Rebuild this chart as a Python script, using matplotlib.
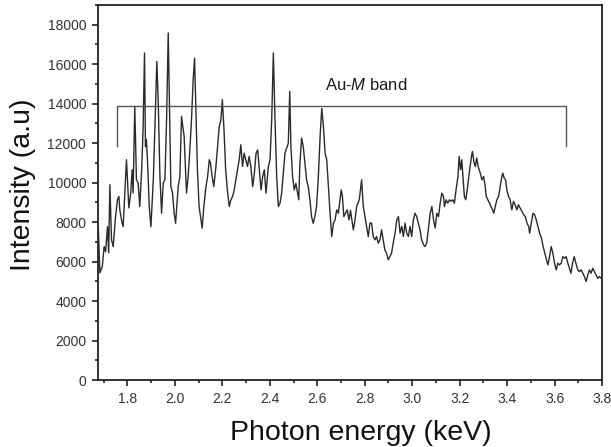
import matplotlib
matplotlib.use("Agg")
from matplotlib import pyplot as plt, ticker

plt.rcParams['font.family'] = ['Liberation Sans', 'DejaVu Sans']
plt.rcParams['mathtext.fontset'] = 'custom'
plt.rcParams['mathtext.rm'] = 'Liberation Sans'
plt.rcParams['mathtext.it'] = 'Liberation Sans:italic'

# spectrum (keV, counts)
energy = [
    1.677, 1.684, 1.694, 1.702, 1.708, 1.716, 1.721, 1.726, 1.733, 1.740,
    1.750, 1.758, 1.764, 1.768, 1.775, 1.782, 1.796, 1.806, 1.814, 1.820,
    1.824, 1.831, 1.838, 1.845, 1.852, 1.860, 1.866, 1.872, 1.876, 1.880,
    1.885, 1.892, 1.899, 1.909, 1.916, 1.924, 1.930, 1.937, 1.944, 1.951,
    1.958, 1.965, 1.972, 1.978, 1.983, 1.990, 1.997, 2.003, 2.014, 2.021,
    2.028, 2.035, 2.039, 2.049, 2.056, 2.063, 2.070, 2.077, 2.083, 2.088,
    2.095, 2.102, 2.108, 2.115, 2.122, 2.131, 2.138, 2.145, 2.150, 2.157,
    2.164, 2.173, 2.180, 2.187, 2.194, 2.200, 2.207, 2.214, 2.221, 2.229,
    2.236, 2.243, 2.250, 2.257, 2.264, 2.271, 2.278, 2.285, 2.292, 2.299,
    2.306, 2.313, 2.320, 2.328, 2.335, 2.342, 2.349, 2.356, 2.363, 2.370,
    2.377, 2.384, 2.394, 2.401, 2.408, 2.415, 2.422, 2.429, 2.436, 2.443,
    2.450, 2.457, 2.464, 2.471, 2.478, 2.484, 2.489, 2.496, 2.503, 2.510,
    2.517, 2.522, 2.527, 2.534, 2.541, 2.548, 2.555, 2.562, 2.569, 2.576,
    2.583, 2.590, 2.597, 2.604, 2.612, 2.619, 2.626, 2.633, 2.640, 2.647,
    2.654, 2.661, 2.668, 2.675, 2.682, 2.689, 2.701, 2.706, 2.712, 2.719,
    2.726, 2.734, 2.740, 2.752, 2.759, 2.766, 2.777, 2.787, 2.794, 2.801,
    2.808, 2.815, 2.822, 2.829, 2.836, 2.843, 2.850, 2.857, 2.864, 2.871,
    2.878, 2.885, 2.892, 2.899, 2.906, 2.913, 2.920, 2.928, 2.935, 2.942,
    2.949, 2.956, 2.963, 2.970, 2.977, 2.984, 2.991, 2.998, 3.005, 3.012,
    3.019, 3.026, 3.033, 3.040, 3.048, 3.054, 3.061, 3.068, 3.076, 3.083,
    3.090, 3.097, 3.104, 3.111, 3.118, 3.125, 3.132, 3.136, 3.143, 3.150,
    3.157, 3.164, 3.171, 3.178, 3.185, 3.193, 3.198, 3.204, 3.209, 3.215,
    3.220, 3.226, 3.232, 3.237, 3.244, 3.250, 3.254, 3.261, 3.266, 3.272,
    3.278, 3.287, 3.294, 3.301, 3.308, 3.312, 3.319, 3.326, 3.332, 3.339,
    3.344, 3.350, 3.357, 3.364, 3.371, 3.378, 3.382, 3.388, 3.394, 3.399,
    3.406, 3.413, 3.420, 3.427, 3.434, 3.441, 3.448, 3.455, 3.463, 3.470,
    3.477, 3.484, 3.491, 3.495, 3.502, 3.509, 3.516, 3.523, 3.530, 3.537,
    3.545, 3.552, 3.559, 3.566, 3.572, 3.579, 3.586, 3.593, 3.600, 3.607,
    3.614, 3.621, 3.628, 3.635, 3.642, 3.649, 3.656, 3.663, 3.669, 3.676,
    3.683, 3.690, 3.698, 3.705, 3.712, 3.719, 3.726, 3.733, 3.740, 3.747,
    3.754, 3.761, 3.768, 3.775, 3.782, 3.789, 3.797,
]
intensity = [
    7770, 5430, 5750, 6760, 6500, 7770, 6440, 9890, 7100, 6760,
    8280, 9130, 9300, 8620, 8110, 7770, 11160, 8720, 9480, 10650,
    9480, 13860, 10140, 9990, 8790, 10650, 12680, 16570, 11830, 12170,
    11000, 8790, 7770, 10140, 12850, 16140, 14030, 10310, 8450, 9990,
    10140, 13180, 17580, 13180, 9800, 9480, 8450, 7940, 9800, 10310,
    13350, 12680, 12340, 9470, 10310, 11660, 13180, 15210, 16310, 14030,
    10650, 8790, 8280, 7690, 8790, 9800, 10310, 11160, 11000, 10310,
    9800, 10820, 11830, 12850, 13180, 14200, 12680, 10650, 9630, 8790,
    9130, 9300, 9630, 10140, 10650, 11160, 11920, 10820, 11490, 11160,
    10820, 11330, 10820, 9800, 10480, 11490, 11660, 10650, 9630, 10310,
    10650, 9470, 10820, 11160, 13180, 16570, 13180, 10310, 8790, 8960,
    9470, 10480, 11490, 11750, 12000, 14620, 11830, 10310, 9630, 9960,
    9470, 9130, 10990, 12260, 11830, 10990, 10140, 9800, 9130, 8280,
    7940, 8280, 8790, 10140, 12340, 13770, 12850, 11490, 11160, 9800,
    8450, 7270, 7940, 8110, 8620, 8450, 9630, 9300, 8280, 8450,
    8620, 8110, 8600, 7610, 8110, 8790, 9130, 10140, 8790, 8280,
    7780, 7270, 7950, 7950, 7270, 7100, 7270, 6930, 7100, 7610,
    7100, 6590, 6420, 6090, 6250, 6420, 6930, 7440, 8110, 8280,
    7440, 7780, 7270, 7950, 7440, 7270, 7780, 7270, 8110, 8450,
    8280, 7950, 7610, 7100, 6850, 6760, 6930, 7610, 8450, 8790,
    8110, 7700, 8450, 8280, 8960, 9470, 9300, 8790, 9130, 8960,
    9130, 9050, 9130, 8960, 9640, 10310, 11330, 10650, 11160, 10140,
    9300, 9130, 9640, 10140, 10820, 11330, 11580, 11000, 10820, 11250,
    10820, 10480, 10140, 10310, 9800, 9300, 9130, 8960, 8790, 8620,
    8450, 8790, 9130, 9300, 9800, 10310, 10480, 10220, 10140, 9640,
    9300, 9130, 8620, 9050, 8880, 8620, 8880, 8710, 8540, 8370,
    8280, 7940, 7780, 7440, 7940, 8450, 8370, 8110, 7780, 7440,
    7190, 6760, 6420, 6090, 5830, 6250, 6760, 6420, 5920, 5580,
    5920, 5830, 5920, 6250, 6170, 6250, 5920, 5660, 5410, 5920,
    6250, 5920, 5580, 5490, 5580, 5410, 5240, 4990, 5320, 5580,
    5410, 5660, 5490, 5320, 5150, 5240, 5150,
]

# Au-M band bracket
band_x = [1.757, 1.757, 3.647, 3.647]
band_y = [11880, 13860, 13860, 11880]
band_label = r'Au-$\mathit{M}$ band'
band_label_pos = (2.808, 14950)

x_ticks = [1.8, 2.0, 2.2, 2.4, 2.6, 2.8, 3.0, 3.2, 3.4, 3.6, 3.8]
y_ticks = [0, 2000, 4000, 6000, 8000, 10000, 12000, 14000, 16000, 18000]

W, H = 611, 447
fig = plt.figure(figsize=(W / 100, H / 100), dpi=100)
ax = fig.add_axes([98 / W, 1 - 380 / H, 504 / W, 375 / H])

ax.plot(energy, intensity, color='#2a2a2a', lw=1.0)
ax.plot(band_x, band_y, color='#555555', lw=1.0)
ax.text(*band_label_pos, band_label, fontsize=12, ha='center', va='center', color='#1a1a1a')

ax.set_xlim(1.676, 3.8)
ax.set_ylim(0, 19000)
ax.set_xticks(x_ticks)
ax.set_yticks(y_ticks)
ax.xaxis.set_minor_locator(ticker.MultipleLocator(0.1))
ax.yaxis.set_minor_locator(ticker.MultipleLocator(1000))
ax.xaxis.set_major_formatter(ticker.FormatStrFormatter('%.1f'))

ax.tick_params(which='both', direction='out', top=False, right=False,
               labelsize=10, labelcolor='#333333', width=1.2, color='#222222')
ax.tick_params(which='major', length=4.5, pad=4)
ax.tick_params(which='minor', length=2.5)
for s in ax.spines.values():
    s.set_linewidth(1.3)
    s.set_color('#222222')

# axis titles placed in figure pixels, as in the reference
fig.text(361 / W, 1 - 440 / H, 'Photon energy (keV)', fontsize=20.5,
         ha='center', va='baseline', color='#111111')
fig.text(30 / W, 1 - 185 / H, 'Intensity (a.u)', fontsize=20.5, rotation=90,
         rotation_mode='anchor', ha='center', va='baseline', color='#111111')

fig.savefig('out.png', dpi=100)
